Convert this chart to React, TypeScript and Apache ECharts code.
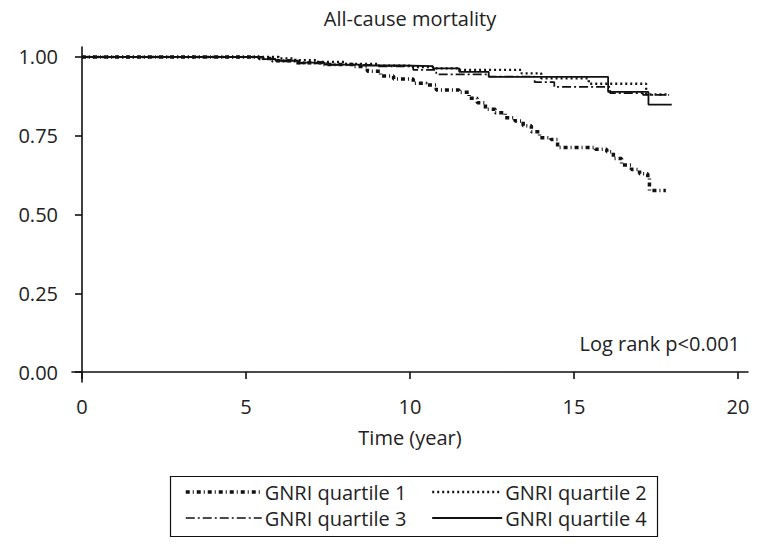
import React, { useEffect, useRef } from "react";
import * as echarts from "echarts";

const seriesNames = ["GNRI quartile 1", "GNRI quartile 2", "GNRI quartile 3", "GNRI quartile 4"];

const q1Time = [0, 5.4, 5.8, 6.5, 7.3, 8.3, 8.7, 9.1, 9.5, 10.1, 10.5, 10.8, 11.5, 11.8, 12.05, 12.3, 12.6, 12.9, 13.2, 13.45, 13.7, 13.95, 14.3, 14.5, 15.65, 16.0, 16.2, 16.45, 16.75, 17.0, 17.25, 17.3, 17.8];
const q1Surv = [1.0, 0.995, 0.988, 0.982, 0.976, 0.97, 0.955, 0.94, 0.93, 0.917, 0.911, 0.895, 0.888, 0.869, 0.855, 0.834, 0.823, 0.807, 0.797, 0.782, 0.763, 0.744, 0.738, 0.713, 0.707, 0.699, 0.678, 0.657, 0.643, 0.629, 0.615, 0.576, 0.576];

const q2Time = [0, 6.0, 6.5, 7.2, 8.0, 9.0, 10.0, 10.7, 11.5, 13.4, 14.0, 15.45, 17.2, 17.9];
const q2Surv = [1.0, 0.995, 0.99, 0.984, 0.978, 0.972, 0.968, 0.964, 0.959, 0.948, 0.932, 0.915, 0.881, 0.881];

const q3Time = [0, 5.4, 5.9, 6.6, 7.5, 9.0, 10.1, 10.8, 12.4, 13.8, 14.4, 16.1, 17.1, 17.9];
const q3Surv = [1.0, 0.994, 0.986, 0.98, 0.975, 0.97, 0.959, 0.945, 0.938, 0.92, 0.905, 0.885, 0.88, 0.88];

const q4Time = [0, 5.5, 5.9, 6.6, 7.4, 8.5, 9.7, 10.7, 11.5, 12.4, 16.04, 17.27, 17.98];
const q4Surv = [1.0, 0.993, 0.988, 0.982, 0.976, 0.973, 0.971, 0.964, 0.953, 0.937, 0.889, 0.849, 0.849];

const xTicks = [0, 5, 10, 15, 20];
const yTicks = [0, 0.25, 0.5, 0.75, 1.0];

const FONT = "Open Sans";
const FS = 20;
const INK = "#111";
const TEXT = "#222";

function pairs(t: number[], s: number[]) {
  return t.map((v, i) => [v, s[i]]);
}

export default function App() {
  const ref = useRef<HTMLDivElement>(null);
  useEffect(() => {
    if (!ref.current) return;
    const chart = echarts.init(ref.current, null, { renderer: "svg" });
    const lineStyles: any[] = [
      { color: INK, width: 3.5, type: [4, 3, 1, 3] },
      { color: INK, width: 2.4, type: [2, 3] },
      { color: INK, width: 1.7, type: [9, 3, 2, 3] },
      { color: INK, width: 1.8, type: "solid" },
    ];
    const data = [pairs(q1Time, q1Surv), pairs(q2Time, q2Surv), pairs(q3Time, q3Surv), pairs(q4Time, q4Surv)];
    const legendCommon = {
      orient: "vertical",
      top: 477,
      itemHeight: 14,
      itemGap: 6,
      itemStyle: { opacity: 0 },
      textStyle: { fontSize: FS, color: TEXT, fontFamily: FONT, padding: [0, 0, 0, -2] },
    };
    const legendItem = (i: number) => ({ name: seriesNames[i], lineStyle: { ...lineStyles[i] }, itemStyle: { opacity: 0 } });
    chart.setOption({
      animation: false,
      backgroundColor: "#fff",
      textStyle: { fontFamily: FONT },
      grid: { left: 72, right: 32, top: 47, bottom: 169, containLabel: false },
      xAxis: {
        type: "value",
        min: -0.305,
        max: 20.305,
        name: "Time (year)",
        nameLocation: "middle",
        nameGap: 45,
        nameTextStyle: { fontSize: FS, color: TEXT, fontFamily: FONT },
        splitLine: { show: false },
        axisLine: { lineStyle: { color: INK, width: 1.6 } },
        axisTick: { show: true, length: 7, customValues: xTicks, lineStyle: { color: INK, width: 1.6 } },
        axisLabel: { customValues: xTicks, fontSize: FS, color: TEXT, margin: 14, fontFamily: FONT },
      },
      yAxis: {
        type: "value",
        min: -0.0317,
        max: 1.0317,
        splitLine: { show: false },
        axisLine: { show: true, lineStyle: { color: INK, width: 1.6 } },
        axisTick: { show: true, length: 7, customValues: yTicks, lineStyle: { color: INK, width: 1.6 } },
        axisLabel: {
          customValues: yTicks,
          fontSize: FS,
          color: TEXT,
          margin: 14,
          fontFamily: FONT,
          formatter: (v: number) => v.toFixed(2),
        },
      },
      legend: [
        { ...legendCommon, left: 179, itemWidth: 76, data: [legendItem(0), legendItem(2)] },
        { ...legendCommon, left: 426, itemWidth: 70, data: [legendItem(1), legendItem(3)] },
      ],
      graphic: [
        {
          type: "text",
          x: 410,
          y: 18,
          style: { text: "All-cause mortality", fontSize: FS, fill: TEXT, fontFamily: FONT, textAlign: "center", textVerticalAlign: "middle" },
        },
        {
          type: "text",
          x: 740,
          y: 343,
          style: { text: "Log rank p<0.001", fontSize: FS, fill: TEXT, fontFamily: FONT, textAlign: "right", textVerticalAlign: "middle" },
        },
        {
          type: "rect",
          shape: { x: 170.5, y: 476.5, width: 487, height: 60 },
          style: { fill: "none", stroke: INK, lineWidth: 1.2 },
        },
      ],
      series: seriesNames.map((name, i) => ({
        name,
        type: "line",
        step: "end",
        symbol: "none",
        data: data[i],
        lineStyle: lineStyles[i],
        itemStyle: { color: INK },
        z: 10 - i,
      })),
    });
    return () => chart.dispose();
  }, []);
  return <div ref={ref} style={{ position: "absolute", left: 0, top: 0, width: 780, height: 551, background: "#fff" }} />;
}
